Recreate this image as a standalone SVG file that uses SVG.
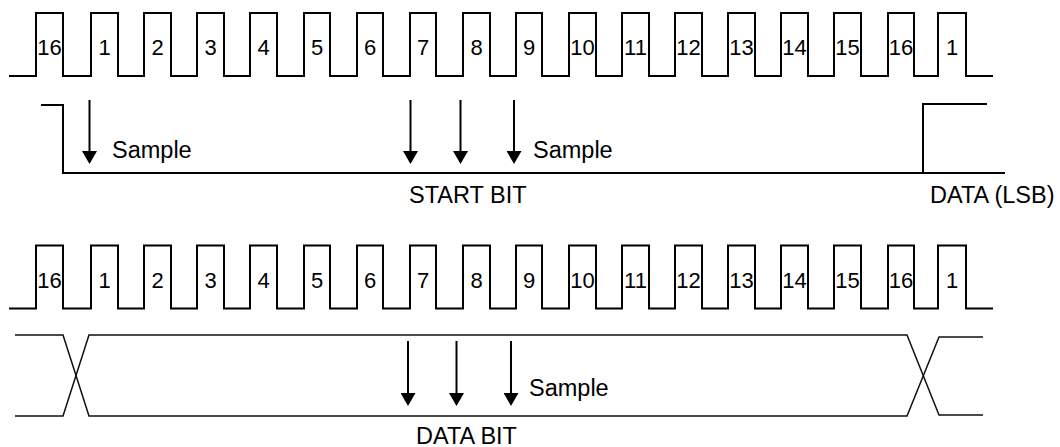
<svg xmlns="http://www.w3.org/2000/svg" xmlns:xlink="http://www.w3.org/1999/xlink" width="1060" height="447" viewBox="0 0 1060 447">
  <style>
    .wave { fill: none; stroke: #000; stroke-width: 2; stroke-linejoin: miter; }
    .bus { fill: none; stroke: #111; stroke-width: 1.5; }
    .arrow { stroke: #000; stroke-width: 2; marker-end: url(#head); }
    .num { font-family: "Liberation Sans", Arial, sans-serif; font-size: 22px; fill: #000; text-anchor: middle; }
    .lbl { font-family: "Liberation Sans", Arial, sans-serif; font-size: 23.5px; fill: #000; }
  </style>
  <defs>
    <marker id="head" viewBox="0 0 13 15" refX="11" refY="7.5" markerWidth="13" markerHeight="15" markerUnits="userSpaceOnUse" orient="auto">
      <path d="M0,0 L13,7.5 L0,15 z" fill="#000"/>
    </marker>
    <!-- 16x oversampling clock with tick numbers -->
    <g id="clk">
      <path class="wave" d="M9,76 H36 V13 H63 V76 H91 V13 H118 V76 H144 V13 H171 V76 H197 V13 H224 V76 H250 V13 H277 V76 H304 V13 H330 V76 H357 V13 H383 V76 H410 V13 H436 V76 H463 V13 H490 V76 H516 V13 H542 V76 H569 V13 H596 V76 H622 V13 H649 V76 H675 V13 H702 V76 H728 V13 H755 V76 H781 V13 H808 V76 H834 V13 H861 V76 H888 V13 H914 V76 H938 V13 H966 V76 H993"/>
      <text class="num" x="49.5" y="55">16</text>
      <text class="num" x="104.5" y="55">1</text>
      <text class="num" x="157.5" y="55">2</text>
      <text class="num" x="210.5" y="55">3</text>
      <text class="num" x="263.5" y="55">4</text>
      <text class="num" x="317" y="55">5</text>
      <text class="num" x="370" y="55">6</text>
      <text class="num" x="423" y="55">7</text>
      <text class="num" x="476.5" y="55">8</text>
      <text class="num" x="529" y="55">9</text>
      <text class="num" x="582.5" y="55">10</text>
      <text class="num" x="635.5" y="55">11</text>
      <text class="num" x="688.5" y="55">12</text>
      <text class="num" x="741.5" y="55">13</text>
      <text class="num" x="794.5" y="55">14</text>
      <text class="num" x="847.5" y="55">15</text>
      <text class="num" x="901" y="55">16</text>
      <text class="num" x="952" y="55">1</text>
    </g>
  </defs>

  <!-- upper clock -->
  <g id="clock-top">
    <use xlink:href="#clk"/>
  </g>

  <!-- start bit line -->
  <g id="start-bit">
    <path class="wave" d="M41,105 H63 V173 H1005"/>
    <path class="wave" d="M923,173 V104 H987"/>
    <text class="lbl" x="112" y="158">Sample</text>
    <text class="lbl" x="533" y="158">Sample</text>
    <text class="lbl" x="409" y="203">START BIT</text>
    <text class="lbl" x="930" y="203">DATA (LSB)</text>
  </g>

  <!-- lower clock -->
  <g id="clock-bottom">
    <use xlink:href="#clk" y="232.5"/>
  </g>

  <!-- data bit bus -->
  <g id="data-bit">
    <path class="bus" d="M15,335 H63 L89,416 H907 L939,337 H983"/>
    <path class="bus" d="M15,416 H63 L89,335 H907 L939,415 H983"/>
    <text class="lbl" x="529" y="396">Sample</text>
    <text class="lbl" x="416" y="444">DATA BIT</text>
  </g>

  <!-- sample arrows -->
  <g id="connectors">
    <line class="arrow" x1="89.5" y1="100" x2="89.5" y2="162"/>
    <line class="arrow" x1="410.5" y1="100" x2="410.5" y2="162"/>
    <line class="arrow" x1="460.5" y1="100" x2="460.5" y2="162"/>
    <line class="arrow" x1="514" y1="100" x2="514" y2="162"/>
    <line class="arrow" x1="408" y1="341" x2="408" y2="404"/>
    <line class="arrow" x1="456.5" y1="341" x2="456.5" y2="404"/>
    <line class="arrow" x1="511" y1="341" x2="511" y2="404"/>
  </g>
</svg>
